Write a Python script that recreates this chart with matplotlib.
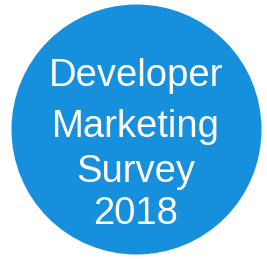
import matplotlib
matplotlib.use('Agg')
import matplotlib.pyplot as plt
from matplotlib.patches import Circle

# Badge text, one entry per line
lines = ['Developer', 'Marketing', 'Survey', '2018']
baselines = [86, 137, 182, 224]

fig = plt.figure(figsize=(2.67, 2.59), dpi=100)
ax = fig.add_axes([0, 0, 1, 1])
ax.set_xlim(0, 267)
ax.set_ylim(259, 0)
ax.axis('off')

ax.add_patch(Circle((136.5, 129.5), 125, color='#168fdc', lw=0))

for txt, y in zip(lines, baselines):
    ax.text(136, y, txt, color='white', fontsize=27.5, family='Liberation Sans',
            ha='center', va='baseline')

fig.savefig('out.png', dpi=100)
